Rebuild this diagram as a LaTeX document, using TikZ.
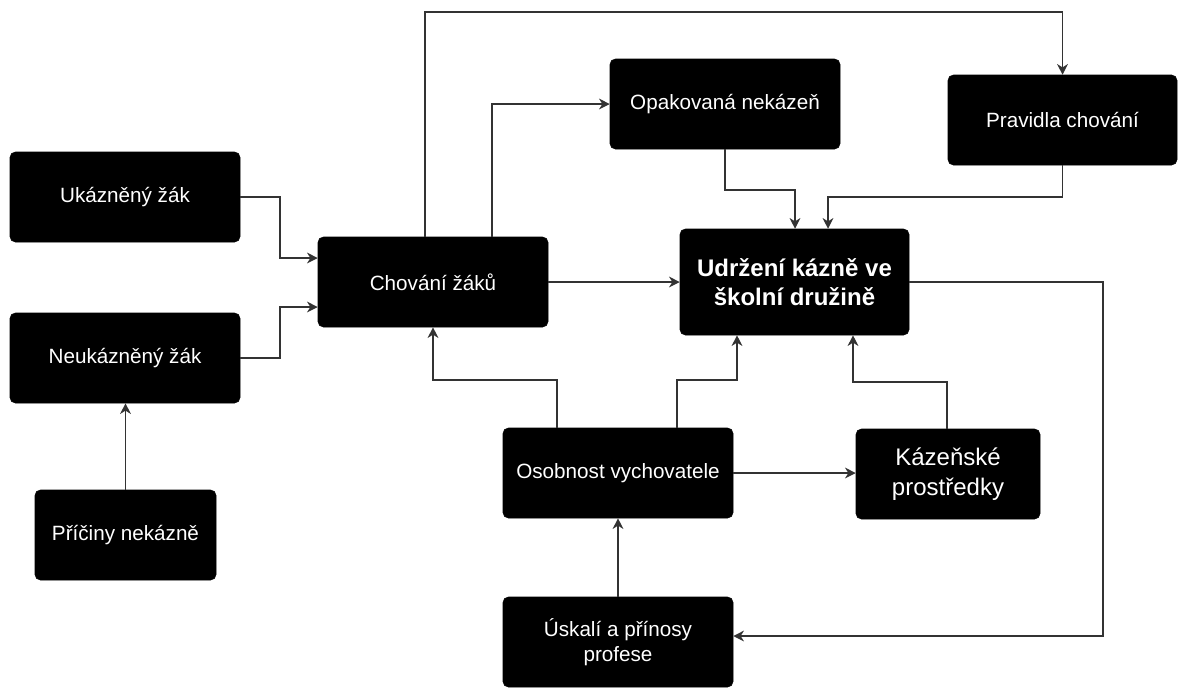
\documentclass[tikz,border=0pt]{standalone}
\usepackage{fontspec}
\setmainfont{Liberation Sans}
\usetikzlibrary{arrows.meta}
\begin{document}
\begin{tikzpicture}[x=0.75pt,y=-0.75pt,
  box/.style={rectangle, fill=black, draw=black, text=white, rounded corners=4pt, inner sep=2pt, align=center,
    font=\fontsize{15.5}{19}\selectfont},
  conn/.style={draw=black!80, line width=1pt, -{Stealth[length=8pt,width=8pt,inset=2.5pt]}}]
\useasboundingbox (0,0) rectangle (1179,687);
\node[box, minimum width=172.5pt, minimum height=67.5pt] (uk) at (125,197) {Ukázněný žák};
\node[box, minimum width=172.5pt, minimum height=67.5pt] (neuk) at (125,358) {Neukázněný žák};
\node[box, minimum width=135.75pt, minimum height=67.5pt] (pric) at (125.5,535) {Příčiny nekázně};
\node[box, minimum width=172.5pt, minimum height=67.5pt] (chov) at (433,282) {Chování žáků};
\node[box, minimum width=172.5pt, minimum height=67.5pt] (opak) at (725,104) {Opakovaná nekázeň};
\node[box, minimum width=171.75pt, minimum height=67.5pt] (prav) at (1062.5,120) {Pravidla chování};
\node[box, minimum width=171.75pt, minimum height=79.5pt, font=\fontsize{18}{22}\selectfont\bfseries] (udr) at (794.5,282) {Udržení kázně ve\\školní družině};
\node[box, minimum width=172.5pt, minimum height=67.5pt] (osob) at (618,473) {Osobnost vychovatele};
\node[box, minimum width=138pt, minimum height=67.5pt, font=\fontsize{18}{22}\selectfont] (kaz) at (948,474) {Kázeňské\\prostředky};
\node[box, minimum width=172.5pt, minimum height=67.5pt] (usk) at (618,642) {Úskalí a přínosy\\profese};

\draw[conn] (uk.east) -| (280,258) -- (chov.west |- 0,258);
\draw[conn] (neuk.east) -| (280,307) -- (chov.west |- 0,307);
\draw[conn] (pric.north) -- (neuk.south -| pric.north);
\draw[conn] (chov.north -| 425,0) |- (prav.north |- 0,12) -- (prav.north);
\draw[conn] (chov.north -| 492,0) |- (opak.west);
\draw[conn] (chov.east) -- (udr.west);
\draw[conn] (opak.south) |- (795,190) -- (udr.north -| 795,0);
\draw[conn] (prav.south) |- (828,197) -- (udr.north -| 828,0);
\draw[conn] (udr.east) -| (1103,636) -- (usk.east |- 0,636);
\draw[conn] (osob.north -| 557,0) |- (433,380) -- (chov.south);
\draw[conn] (osob.north -| 677,0) |- (737,380) -- (udr.south -| 737,0);
\draw[conn] (kaz.north -| 947,0) |- (853,382) -- (udr.south -| 853,0);
\draw[conn] (osob.east) -- (kaz.west |- osob.east);
\draw[conn] (usk.north) -- (osob.south);
\end{tikzpicture}
\end{document}
